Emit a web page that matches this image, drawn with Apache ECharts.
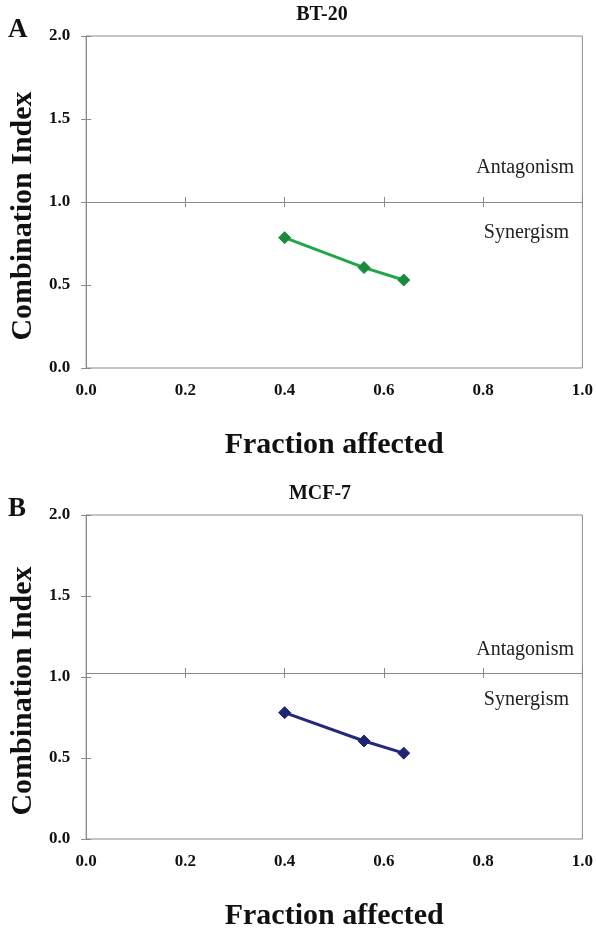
<!DOCTYPE html>
<html>
<head>
<meta charset="utf-8">
<script src="https://cdn.jsdelivr.net/npm/echarts@6/dist/echarts.min.js"></script>
<style>
html,body{margin:0;padding:0;background:#fff;}
#chart{width:596px;height:932px;}
</style>
</head>
<body>
<div id="chart"></div>
<script>
// ---- data ----
const panelTitles = ['BT-20', 'MCF-7'];
const panelLetters = ['A', 'B'];
const fractionAffected = [0.40, 0.56, 0.64];
const ciBT20 = [0.785, 0.605, 0.53];
const ciMCF7 = [0.78, 0.605, 0.53];
const xMin = 0, xMax = 1.0, xStep = 0.2;
const yMin = 0, yMax = 2.0, yStep = 0.5;
const referenceCI = 1.0;
const xTitle = 'Fraction affected';
const yTitle = 'Combination Index';
const upperNote = 'Antagonism';
const lowerNote = 'Synergism';

// ---- layout / style ----
const FONT = '"Liberation Serif","Times New Roman",serif';
const grids = [
  {left: 75, top: 36, width: 510, height: 332},
  {left: 73, top: 515, width: 510, height: 332}
];
const lineColors = ['#22a64a', '#232a7a'];
const markerColors = ['#1a8a3c', '#1e2570'];
const borderGray = '#8a8a8a';

const chart = echarts.init(document.getElementById('chart'), null, {renderer: 'canvas'});

const option = {
  animation: false,
  backgroundColor: '#ffffff',
  title: [],
  grid: [],
  xAxis: [],
  yAxis: [],
  series: [],
  graphic: []
};

const fmt = v => v.toFixed(1);
const ciSets = [ciBT20, ciMCF7];

grids.forEach((g, i) => {
  option.grid.push({left: g.left, top: g.top, width: g.width, height: g.height,
    show: true, borderColor: borderGray, borderWidth: 1, backgroundColor: 'transparent'});

  const refOffset = -Math.round(g.height * (referenceCI - yMin) / (yMax - yMin));

  // labelled bottom axis
  option.xAxis.push({
    gridIndex: i, type: 'value', min: xMin, max: xMax, interval: xStep, position: 'bottom',
    axisLine: {show: false, onZero: false}, axisTick: {show: false}, splitLine: {show: false},
    axisLabel: {formatter: fmt, color: '#111', fontFamily: FONT, fontWeight: 'bold', fontSize: 17, margin: 14},
    name: xTitle, nameLocation: 'middle', nameGap: 62,
    nameTextStyle: {fontFamily: FONT, fontWeight: 'bold', fontSize: 30, color: '#111'}
  });
  // axis line at CI = 1
  option.xAxis.push({
    gridIndex: i, type: 'value', min: xMin, max: xMax, interval: xStep, position: 'bottom', offset: refOffset,
    axisLine: {show: true, onZero: false, lineStyle: {color: borderGray, width: 1}},
    axisTick: {show: false},
    axisLabel: {show: false}, splitLine: {show: false}
  });
  // crossing ticks at CI = 1
  option.xAxis.push({
    gridIndex: i, type: 'value', min: xMin, max: xMax, interval: xStep, position: 'bottom', offset: refOffset - 5,
    axisLine: {show: false, onZero: false},
    axisTick: {show: true, inside: false, length: 10, lineStyle: {color: borderGray}},
    axisLabel: {show: false}, splitLine: {show: false}
  });

  option.yAxis.push({
    gridIndex: i, type: 'value', min: yMin, max: yMax, interval: yStep, position: 'left',
    axisLine: {show: true, onZero: false, lineStyle: {color: borderGray, width: 1}},
    axisTick: {show: false},
    splitLine: {show: false},
    axisLabel: {formatter: fmt, color: '#111', fontFamily: FONT, fontWeight: 'bold', fontSize: 17, margin: 16},
    name: yTitle, nameLocation: 'middle', nameGap: 45,
    nameTextStyle: {fontFamily: FONT, fontWeight: 'bold', fontSize: 30, color: '#111', padding: [0, 28, 0, 0]}
  });
  option.yAxis.push({
    gridIndex: i, type: 'value', min: yMin, max: yMax, interval: yStep, position: 'left', offset: -5,
    axisLine: {show: false, onZero: false},
    axisTick: {show: true, inside: false, length: 10, lineStyle: {color: borderGray}},
    axisLabel: {show: false}, splitLine: {show: false}
  });

  option.series.push({
    type: 'line', xAxisIndex: i * 3, yAxisIndex: i * 2,
    data: fractionAffected.map((x, k) => [x, ciSets[i][k]]),
    symbol: 'diamond', symbolSize: 12,
    lineStyle: {color: lineColors[i], width: 3},
    itemStyle: {color: markerColors[i], borderColor: markerColors[i], borderWidth: 1}
  });

  option.title.push({
    text: panelTitles[i], left: g.left + g.width / 2 - 13, top: g.top - 36, textAlign: 'center',
    textStyle: {fontFamily: FONT, fontWeight: 'bold', fontSize: 20, color: '#111'}
  });
  option.title.push({
    text: panelLetters[i], left: 3, top: g.top - 24,
    textStyle: {fontFamily: FONT, fontWeight: 'bold', fontSize: 27, color: '#111'}
  });
});

option.graphic = [
  {type: 'text', right: 22, top: 158, style: {text: upperNote, font: '20px ' + FONT, fill: '#222'}},
  {type: 'text', right: 27, top: 223, style: {text: lowerNote, font: '20px ' + FONT, fill: '#222'}},
  {type: 'text', right: 22, top: 640, style: {text: upperNote, font: '20px ' + FONT, fill: '#222'}},
  {type: 'text', right: 27, top: 690, style: {text: lowerNote, font: '20px ' + FONT, fill: '#222'}}
];

chart.setOption(option);
</script>
</body>
</html>
